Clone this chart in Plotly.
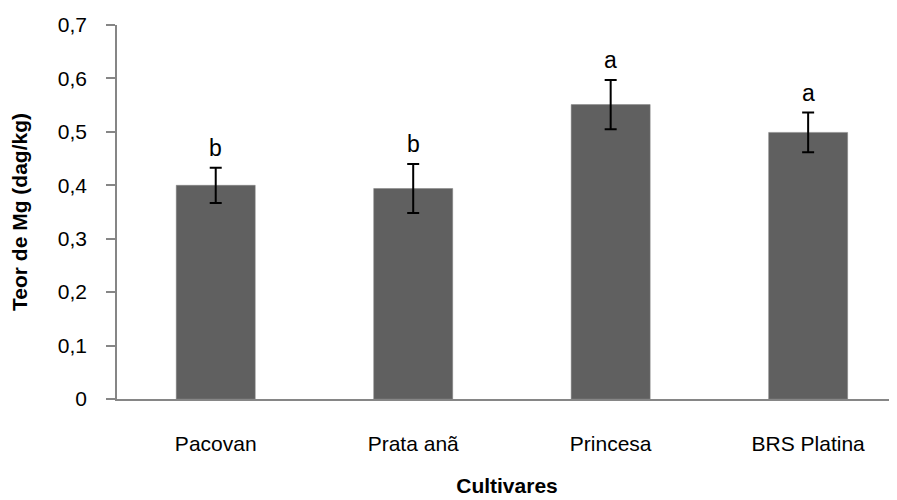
import plotly.graph_objects as go

# dados
cultivares = ["Pacovan", "Prata anã", "Princesa", "BRS Platina"]
teor_mg = [0.400, 0.394, 0.551, 0.499]
erro = [0.033, 0.046, 0.046, 0.037]
letras = ["b", "b", "a", "a"]

y_ticks = [0, 0.1, 0.2, 0.3, 0.4, 0.5, 0.6, 0.7]
y_tick_labels = ["0", "0,1", "0,2", "0,3", "0,4", "0,5", "0,6", "0,7"]

FONT = "Liberation Sans, Arial, sans-serif"
AXIS_GREY = "#868686"

fig = go.Figure()
fig.add_trace(go.Bar(
    x=cultivares, y=teor_mg, width=0.4,
    marker=dict(color="#606060", line=dict(color="#808080", width=0.5)),
    error_y=dict(type="data", array=erro, visible=True,
                 color="black", thickness=2, width=6),
    showlegend=False,
))

# letras de significância acima das barras de erro
for c, v, e, l in zip(cultivares, teor_mg, erro, letras):
    fig.add_annotation(x=c, y=v + e, text=l, showarrow=False,
                       yanchor="bottom", yshift=5,
                       font=dict(family=FONT, size=23, color="black"))

# a página tem margem de 8px no body -> figura um pouco menor que a janela
fig.update_layout(
    width=889, height=492,
    margin=dict(l=109, r=0, t=17, b=101),
    paper_bgcolor="white", plot_bgcolor="white",
    font=dict(family=FONT, size=21, color="black"),
    bargap=0.6,
)
fig.update_xaxes(
    range=[-0.5, 3.45], automargin=False,
    showline=True, linecolor=AXIS_GREY, linewidth=1.5,
    ticks="", ticklabelstandoff=25,
    tickfont=dict(size=21),
    title=dict(text="<b>Cultivares</b>", font=dict(size=21), standoff=24),
)
fig.update_yaxes(
    range=[0, 0.7], automargin=False,
    tickvals=y_ticks, ticktext=y_tick_labels,
    showline=True, linecolor=AXIS_GREY, linewidth=1.5,
    ticks="outside", ticklen=9, tickcolor=AXIS_GREY, tickwidth=1.5,
    showgrid=False, zeroline=False,
    ticklabelstandoff=15,
    tickfont=dict(size=21),
    title=dict(text="<b>Teor de Mg (dag/kg)</b>", font=dict(size=21), standoff=24),
)

fig.write_html("out.html")
